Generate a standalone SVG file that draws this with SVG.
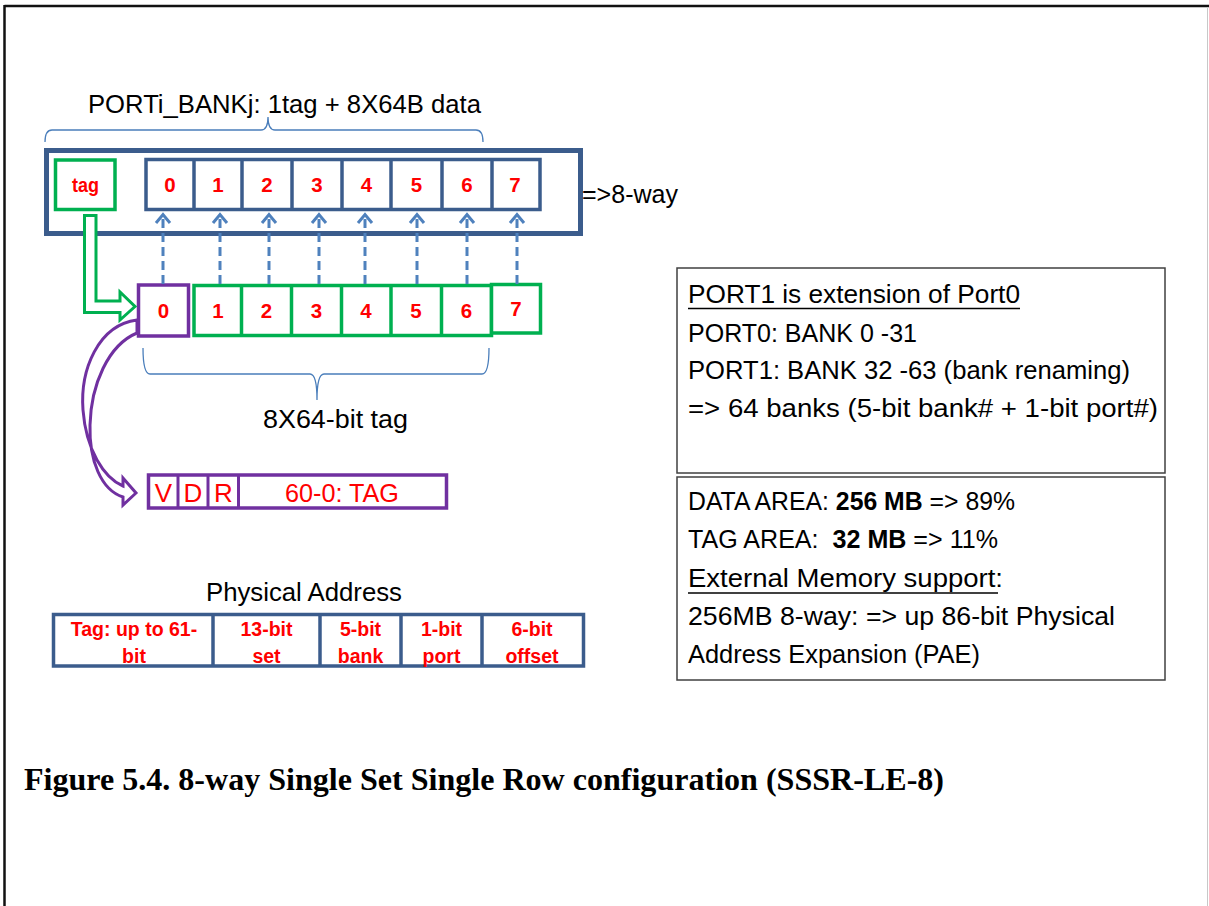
<svg xmlns="http://www.w3.org/2000/svg" width="1209" height="906" viewBox="0 0 1209 906">
  <style>
    .lbl { font-family: "Liberation Sans", Arial, sans-serif; font-size: 25.5px; fill: #000; }
    .num { font-family: "Liberation Sans", Arial, sans-serif; font-size: 20.5px; font-weight: bold; fill: #FF0000; text-anchor: middle; }
    .fld { font-family: "Liberation Sans", Arial, sans-serif; font-size: 26px; fill: #FF0000; text-anchor: middle; }
    .pa { font-family: "Liberation Sans", Arial, sans-serif; font-size: 19.5px; font-weight: bold; fill: #FF0000; text-anchor: middle; }
    .blue { fill: #fff; stroke: #3B5C8C; stroke-width: 3.5; }
    .green { fill: #fff; stroke: #00B050; stroke-width: 3.5; }
    .purple { fill: #fff; stroke: #7030A0; stroke-width: 3.5; }
    .div-blue { stroke: #3B5C8C; stroke-width: 3.5; }
    .div-green { stroke: #00B050; stroke-width: 3.5; }
    .div-purple { stroke: #7030A0; stroke-width: 3; }
    .brace { fill: none; stroke: #4A7EBB; stroke-width: 1.3; }
    .dash { stroke: #4F81BD; stroke-width: 3; stroke-dasharray: 9 5; fill: none; }
    .note { fill: #fff; stroke: #404040; stroke-width: 1.5; }
  </style>
  <defs>
    <marker id="chev" markerUnits="userSpaceOnUse" viewBox="-12 -10 16 20" refX="0" refY="0" markerWidth="16" markerHeight="20" orient="auto" overflow="visible">
      <path d="M-8.5,-7 L0,0 L-8.5,7" fill="none" stroke="#4F81BD" stroke-width="3" stroke-dasharray="none"/>
    </marker>
  </defs>

  <rect width="1209" height="906" fill="#fff"/>

  <!-- page frame -->
  <g id="frame">
    <line x1="4.5" y1="6" x2="1209" y2="6" stroke="#111" stroke-width="2.5"/>
    <line x1="4.5" y1="5" x2="4.5" y2="906" stroke="#111" stroke-width="2.5"/>
    <line x1="1207.5" y1="7" x2="1207.5" y2="906" stroke="#c8c8c8" stroke-width="1"/>
  </g>

  <!-- bank row: tag + 8 data ways -->
  <g id="bank">
    <text class="lbl" x="88" y="113" textLength="393" lengthAdjust="spacingAndGlyphs">PORTi_BANKj: 1tag + 8X64B data</text>
    <path class="brace" d="M45,142 Q45,130 52,130 L261,130 Q268,130 268,117 Q268,130 275,130 L476,130 Q483,130 483,142"/>
    <rect x="46.5" y="150.5" width="534" height="83" fill="#fff" stroke="#3B5C8C" stroke-width="5"/>
    <text class="lbl" x="582" y="203" textLength="96" lengthAdjust="spacingAndGlyphs">=&gt;8-way</text>
  </g>

  <g id="tag-cell">
    <rect class="green" x="55.5" y="160" width="59.5" height="49.5"/>
    <text class="num" x="85.5" y="192" textLength="27" lengthAdjust="spacingAndGlyphs">tag</text>
  </g>

  <g id="ways">
    <rect class="blue" x="146" y="159.5" width="394" height="50"/>
    <line class="div-blue" x1="194" y1="159.5" x2="194" y2="209.5"/>
    <line class="div-blue" x1="242" y1="159.5" x2="242" y2="209.5"/>
    <line class="div-blue" x1="292" y1="159.5" x2="292" y2="209.5"/>
    <line class="div-blue" x1="342" y1="159.5" x2="342" y2="209.5"/>
    <line class="div-blue" x1="391" y1="159.5" x2="391" y2="209.5"/>
    <line class="div-blue" x1="442" y1="159.5" x2="442" y2="209.5"/>
    <line class="div-blue" x1="492" y1="159.5" x2="492" y2="209.5"/>
    <text class="num" x="170" y="192">0</text>
    <text class="num" x="218" y="192">1</text>
    <text class="num" x="267" y="192">2</text>
    <text class="num" x="317" y="192">3</text>
    <text class="num" x="366.5" y="192">4</text>
    <text class="num" x="416.5" y="192">5</text>
    <text class="num" x="467" y="192">6</text>
    <text class="num" x="515" y="192">7</text>
  </g>

  <!-- tag word row -->
  <g id="tag-row">
    <rect class="green" x="194" y="285.5" width="297.5" height="50"/>
    <line class="div-green" x1="241.5" y1="285.5" x2="241.5" y2="335.5"/>
    <line class="div-green" x1="291.5" y1="285.5" x2="291.5" y2="335.5"/>
    <line class="div-green" x1="341.5" y1="285.5" x2="341.5" y2="335.5"/>
    <line class="div-green" x1="391" y1="285.5" x2="391" y2="335.5"/>
    <line class="div-green" x1="441.5" y1="285.5" x2="441.5" y2="335.5"/>
    <rect class="green" x="491.5" y="284.5" width="49" height="48.5"/>
    <rect class="purple" x="138.5" y="285" width="50" height="51"/>
    <text class="num" x="163.5" y="318">0</text>
    <text class="num" x="218" y="318">1</text>
    <text class="num" x="266.5" y="318">2</text>
    <text class="num" x="316.5" y="318">3</text>
    <text class="num" x="366" y="318">4</text>
    <text class="num" x="416" y="318">5</text>
    <text class="num" x="466.5" y="318">6</text>
    <text class="num" x="516" y="316">7</text>
    <path class="brace" d="M143,348 Q143,374 150,374 L310,374 Q317,374 317,400 Q317,374 324,374 L482,374 Q489,374 489,348"/>
    <text class="lbl" x="263" y="428" textLength="145" lengthAdjust="spacingAndGlyphs">8X64-bit tag</text>
  </g>

  <!-- tag entry fields -->
  <g id="tag-fields">
    <rect class="purple" x="148.5" y="475" width="298" height="33"/>
    <line class="div-purple" x1="178" y1="475" x2="178" y2="508"/>
    <line class="div-purple" x1="208" y1="475" x2="208" y2="508"/>
    <line class="div-purple" x1="238.5" y1="475" x2="238.5" y2="508"/>
    <text class="fld" x="163.5" y="502">V</text>
    <text class="fld" x="193" y="502">D</text>
    <text class="fld" x="223.5" y="502">R</text>
    <text class="fld" x="342" y="502" textLength="114" lengthAdjust="spacingAndGlyphs">60-0: TAG</text>
  </g>

  <!-- connectors -->
  <g id="connectors">
    <line class="dash" x1="163" y1="284" x2="163" y2="214.5" marker-end="url(#chev)"/>
    <line class="dash" x1="220" y1="284" x2="220" y2="214.5" marker-end="url(#chev)"/>
    <line class="dash" x1="269" y1="284" x2="269" y2="214.5" marker-end="url(#chev)"/>
    <line class="dash" x1="319" y1="284" x2="319" y2="214.5" marker-end="url(#chev)"/>
    <line class="dash" x1="365" y1="284" x2="365" y2="214.5" marker-end="url(#chev)"/>
    <line class="dash" x1="417" y1="284" x2="417" y2="214.5" marker-end="url(#chev)"/>
    <line class="dash" x1="467" y1="284" x2="467" y2="214.5" marker-end="url(#chev)"/>
    <line class="dash" x1="517" y1="284" x2="517" y2="214.5" marker-end="url(#chev)"/>
    <!-- tag → tag word 0 (hollow bent arrow) -->
    <path d="M84.5,215.5 L84.5,312.5 L120,312.5 L120,320 L135,306.5 L120,292 L120,301 L96,301 L96,215.5 Z" fill="#fff" stroke="#00B050" stroke-width="3"/>
    <!-- tag word 0 → field layout (hollow curved arrow) -->
    <path d="M137,320 C98,325 80,370 83,410 C86,450 104,478 123,486 L123,478 L136,493 L123,505 L123,497 C101,490 89,460 90,425 C91,385 108,345 137,333 Z" fill="#fff" stroke="#7030A0" stroke-width="3" stroke-linejoin="miter"/>
  </g>

  <!-- physical address layout -->
  <g id="phys-addr">
    <text class="lbl" x="206" y="601" textLength="196" lengthAdjust="spacingAndGlyphs">Physical Address</text>
    <rect class="blue" x="53.5" y="614.5" width="530" height="51.5"/>
    <line class="div-blue" x1="213" y1="614.5" x2="213" y2="666"/>
    <line class="div-blue" x1="320" y1="614.5" x2="320" y2="666"/>
    <line class="div-blue" x1="401" y1="614.5" x2="401" y2="666"/>
    <line class="div-blue" x1="482" y1="614.5" x2="482" y2="666"/>
    <text class="pa" x="134" y="636">Tag: up to 61-</text>
    <text class="pa" x="134" y="663">bit</text>
    <text class="pa" x="266.5" y="636">13-bit</text>
    <text class="pa" x="266.5" y="663">set</text>
    <text class="pa" x="360.5" y="636">5-bit</text>
    <text class="pa" x="360.5" y="663">bank</text>
    <text class="pa" x="441.5" y="636">1-bit</text>
    <text class="pa" x="441.5" y="663">port</text>
    <text class="pa" x="532" y="636">6-bit</text>
    <text class="pa" x="532" y="663">offset</text>
  </g>

  <!-- notes -->
  <g id="note-ports">
    <rect class="note" x="677" y="268" width="488" height="205"/>
    <text class="lbl" x="688" y="303" textLength="332" lengthAdjust="spacingAndGlyphs">PORT1 is extension of Port0</text>
    <line x1="688" y1="308.5" x2="1020" y2="308.5" stroke="#000" stroke-width="1.5"/>
    <text class="lbl" x="688" y="342" textLength="229" lengthAdjust="spacingAndGlyphs">PORT0: BANK 0 -31</text>
    <text class="lbl" x="688" y="379" textLength="442" lengthAdjust="spacingAndGlyphs">PORT1: BANK 32 -63 (bank renaming)</text>
    <text class="lbl" x="688" y="417" textLength="470" lengthAdjust="spacingAndGlyphs">=&gt; 64 banks (5-bit bank# + 1-bit port#)</text>
  </g>

  <g id="note-area">
    <rect class="note" x="677" y="477" width="488" height="203"/>
    <text class="lbl" x="688" y="510" textLength="327" lengthAdjust="spacingAndGlyphs">DATA AREA: <tspan font-weight="bold">256 MB</tspan> =&gt; 89%</text>
    <text class="lbl" x="688" y="548" textLength="310" lengthAdjust="spacingAndGlyphs" xml:space="preserve">TAG AREA:  <tspan font-weight="bold">32 MB</tspan> =&gt; 11%</text>
    <text class="lbl" x="688" y="587" textLength="315" lengthAdjust="spacingAndGlyphs">External Memory support:</text>
    <line x1="688" y1="593" x2="998" y2="593" stroke="#000" stroke-width="1.5"/>
    <text class="lbl" x="688" y="625" textLength="427" lengthAdjust="spacingAndGlyphs">256MB 8-way: =&gt; up 86-bit Physical</text>
    <text class="lbl" x="688" y="663" textLength="292" lengthAdjust="spacingAndGlyphs">Address Expansion (PAE)</text>
  </g>

  <g id="caption">
    <text x="24" y="790" font-family="'Liberation Serif', 'Times New Roman', serif" font-size="32" font-weight="bold" fill="#000" textLength="920" lengthAdjust="spacingAndGlyphs">Figure 5.4. 8-way Single Set Single Row configuration (SSSR-LE-8)</text>
  </g>
</svg>
